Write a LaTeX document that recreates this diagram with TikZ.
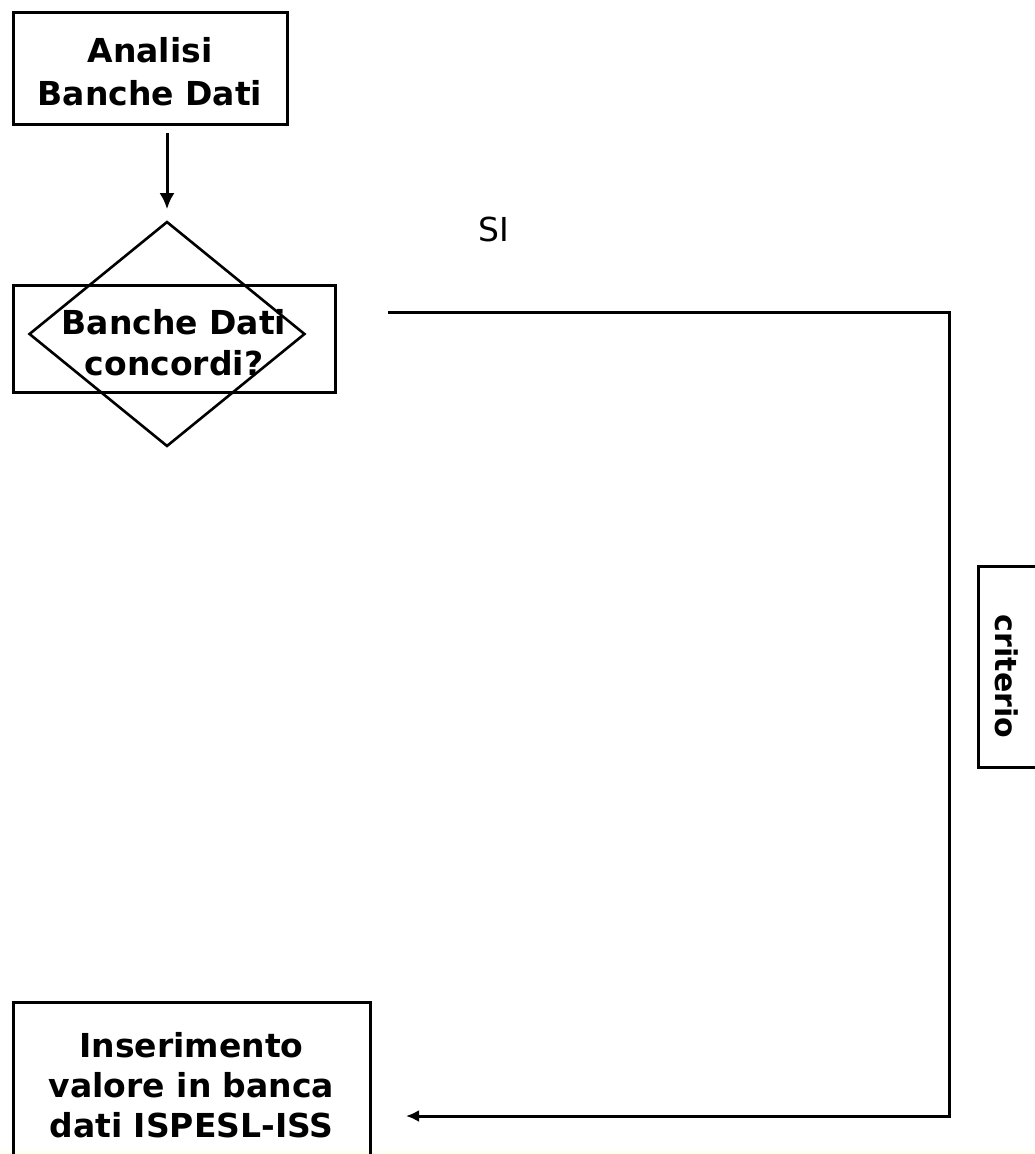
\documentclass[tikz,border=0pt]{standalone}
\usepackage{fontspec}
\setmainfont{DejaVu Sans}
\usetikzlibrary{shapes.geometric,arrows.meta}
\definecolor{ivoryband}{HTML}{FFFFF0}
\begin{document}
\begin{tikzpicture}[x=1pt,y=-1pt,
  box/.style={draw, line width=3pt, align=center, inner sep=0pt},
  conn/.style={line width=3pt},
  bigarrow/.style={-{Latex[length=16pt,width=15pt]}},
  smallarrow/.style={-{Latex[length=13pt,width=12pt]}},
]
\useasboundingbox (0,0) rectangle (1035,1154);
\clip (0,0) rectangle (1035,1154);
\fill[white] (0,0) rectangle (1035,1154);
\fill[ivoryband] (0,1151) rectangle (1035,1154);

\node[box, minimum width=274pt, minimum height=112pt,
      font=\fontsize{33}{43}\selectfont\bfseries] (top) at (150,68) {\rule{0pt}{33pt}Analisi\\Banche Dati};
\node[box, minimum width=322pt, minimum height=107pt,
      font=\fontsize{33}{41}\selectfont\bfseries] (q) at (174,338.5) {\rule{0pt}{33pt}Banche Dati\\concordi?};
\node[draw, line width=2.6pt, diamond, minimum width=276pt, minimum height=225pt, inner sep=0pt] (dia) at (167,334) {};
\node[font=\fontsize{33}{38}\selectfont] (si) at (494,229) {SI};
\node[draw, line width=3pt, rotate=-90, minimum width=201pt, minimum height=58pt, inner sep=0pt,
      font=\fontsize{30}{34}\selectfont\bfseries] (crit) at (1007,666.5) {\hspace*{20pt}criterio};
\node[box, minimum width=357pt, minimum height=166pt,
      font=\fontsize{33}{40}\selectfont\bfseries] (ins) at (191.5,1085) {Inserimento\\valore in banca\\dati ISPESL-ISS};

\coordinate (s) at (388,312);
\coordinate (k) at (949,1116);
\coordinate (e) at (406,1116);

\draw[conn, bigarrow, shorten <=7pt, shorten >=11pt] (dia.north |- top.south) -- (dia.north);
\draw[conn, smallarrow] (s) -| (k) -- (e);
\end{tikzpicture}
\end{document}
